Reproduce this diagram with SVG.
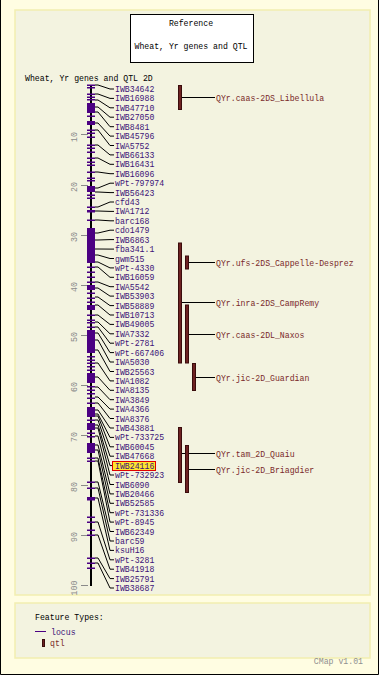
<svg xmlns="http://www.w3.org/2000/svg" width="379" height="675" viewBox="0 0 379 675">
<style>
text{font-family:"Liberation Mono","DejaVu Sans Mono",monospace;font-size:8.2px}
.blk{fill:#000}
.loc{fill:#3c1478}
.qt{fill:#7a2a2a}
.sc{fill:#8a8a8a}
.tk{fill:#4b0082}
.qb{fill:#6e2222;stroke:#3a0c0c;stroke-width:1}
.ln{fill:none;stroke:#000;stroke-width:1}
.st{stroke:#8a8a8a;stroke-width:1}
</style>
<rect x="0" y="0" width="379" height="675" fill="#fffde2"/>
<path d="M0.5,0 V674.5 H378.5 V0" fill="none" stroke="#000"/>
<rect x="15" y="10" width="355" height="585" fill="#f3f3e0" stroke="#f2eeb0" stroke-width="1.5"/>
<rect x="15" y="603" width="355" height="55" fill="#f3f3e0" stroke="#f2eeb0" stroke-width="1.5"/>

<g id="title">
<rect x="130.5" y="14.5" width="123" height="48" fill="#fff" stroke="#000"/>
<text class="blk" x="191" y="25.5" text-anchor="middle">Reference</text>
<text class="blk" x="191" y="49" text-anchor="middle">Wheat, Yr genes and QTL</text>
</g>
<text class="blk" x="25" y="80.5">Wheat, Yr genes and QTL 2D</text>

<g id="scale">
<g class="st">
<line x1="81" y1="134.5" x2="88" y2="134.5"/><line x1="81" y1="185.5" x2="88" y2="185.5"/>
<line x1="81" y1="235.5" x2="88" y2="235.5"/><line x1="81" y1="285.5" x2="88" y2="285.5"/>
<line x1="81" y1="335.5" x2="88" y2="335.5"/><line x1="81" y1="385.5" x2="88" y2="385.5"/>
<line x1="81" y1="435.5" x2="88" y2="435.5"/><line x1="81" y1="485.5" x2="88" y2="485.5"/>
<line x1="81" y1="535.5" x2="88" y2="535.5"/><line x1="81" y1="585.5" x2="88" y2="585.5"/>
</g>
<text class="sc" x="77" y="137" transform="rotate(-90 77 137)" text-anchor="middle">10</text>
<text class="sc" x="77" y="187" transform="rotate(-90 77 187)" text-anchor="middle">20</text>
<text class="sc" x="77" y="237" transform="rotate(-90 77 237)" text-anchor="middle">30</text>
<text class="sc" x="77" y="287" transform="rotate(-90 77 287)" text-anchor="middle">40</text>
<text class="sc" x="77" y="337" transform="rotate(-90 77 337)" text-anchor="middle">50</text>
<text class="sc" x="77" y="387" transform="rotate(-90 77 387)" text-anchor="middle">60</text>
<text class="sc" x="77" y="437" transform="rotate(-90 77 437)" text-anchor="middle">70</text>
<text class="sc" x="77" y="487" transform="rotate(-90 77 487)" text-anchor="middle">80</text>
<text class="sc" x="77" y="537" transform="rotate(-90 77 537)" text-anchor="middle">90</text>
<text class="sc" x="77" y="588" transform="rotate(-90 77 588)" text-anchor="middle">100</text>
</g>

<g id="connectors" class="ln">
<polyline points="95,85 98,85 110,89 114,89"/>
<polyline points="95,94 98,94 110,98.4 114,98.4"/>
<polyline points="95,100 98,100 110,107.8 114,107.8"/>
<polyline points="95,107 98,107 110,117.2 114,117.2"/>
<polyline points="95,112 98,112 110,126.7 114,126.7"/>
<polyline points="95,123 98,123 110,136.1 114,136.1"/>
<polyline points="95,130 98,130 110,145.5 114,145.5"/>
<polyline points="95,145 98,145 110,154.9 114,154.9"/>
<polyline points="95,158 98,158 110,164.3 114,164.3"/>
<polyline points="95,172 98,172 110,173.7 114,173.7"/>
<polyline points="95,188 98,188 110,183.2 114,183.2"/>
<polyline points="95,192 98,192 110,192.6 114,192.6"/>
<polyline points="95,207 98,207 110,202 114,202"/>
<polyline points="95,211 98,211 110,211.4 114,211.4"/>
<polyline points="95,220 98,220 110,220.8 114,220.8"/>
<polyline points="95,233 98,233 110,230.2 114,230.2"/>
<polyline points="95,240 98,240 110,239.6 114,239.6"/>
<polyline points="95,249 98,249 110,249.1 114,249.1"/>
<polyline points="95,255 98,255 110,258.5 114,258.5"/>
<polyline points="95,262 98,262 110,267.9 114,267.9"/>
<polyline points="95,267 98,267 110,277.3 114,277.3"/>
<polyline points="95,282 98,282 110,286.7 114,286.7"/>
<polyline points="95,288 98,288 110,296.1 114,296.1"/>
<polyline points="95,297 98,297 110,305.6 114,305.6"/>
<polyline points="95,305 98,305 110,315 114,315"/>
<polyline points="95,315 98,315 110,324.4 114,324.4"/>
<polyline points="95,322 98,322 110,333.8 114,333.8"/>
<polyline points="95,327 98,327 110,343.2 114,343.2"/>
<polyline points="95,333 98,333 110,352.6 114,352.6"/>
<polyline points="95,340 98,340 110,362 114,362"/>
<polyline points="95,350 98,350 110,371.5 114,371.5"/>
<polyline points="95,363 98,363 110,380.9 114,380.9"/>
<polyline points="95,377 98,377 110,390.3 114,390.3"/>
<polyline points="95,387 98,387 110,399.7 114,399.7"/>
<polyline points="95,397 98,397 110,409.1 114,409.1"/>
<polyline points="95,403 98,403 110,418.5 114,418.5"/>
<polyline points="95,410 98,410 110,428 114,428"/>
<polyline points="95,414 98,414 110,437.4 114,437.4"/>
<polyline points="95,416 98,416 110,446.8 114,446.8"/>
<polyline points="95,420 98,420 110,456.2 114,456.2"/>
<polyline points="95,425 98,425 110,465.6 114,465.6"/>
<polyline points="95,428 98,428 110,475 114,475"/>
<polyline points="95,436 98,436 110,484.5 114,484.5"/>
<polyline points="95,445 98,445 110,493.9 114,493.9"/>
<polyline points="95,450 98,450 110,503.3 114,503.3"/>
<polyline points="95,458 98,458 110,512.7 114,512.7"/>
<polyline points="95,461 98,461 110,522.1 114,522.1"/>
<polyline points="95,482 98,482 110,531.5 114,531.5"/>
<polyline points="95,488 98,488 110,541 114,541"/>
<polyline points="95,498 98,498 110,550.4 114,550.4"/>
<polyline points="95,522 98,522 110,559.8 114,559.8"/>
<polyline points="95,535 98,535 110,569.2 114,569.2"/>
<polyline points="95,558 98,558 110,578.6 114,578.6"/>
<polyline points="95,563 98,563 110,588 114,588"/>
<line x1="182" y1="97.5" x2="215" y2="97.5"/>
<line x1="189" y1="262.5" x2="215" y2="262.5"/>
<line x1="182" y1="302.5" x2="215" y2="302.5"/>
<line x1="189" y1="334.5" x2="215" y2="334.5"/>
<line x1="196" y1="377.5" x2="215" y2="377.5"/>
<line x1="182" y1="453.5" x2="215" y2="453.5"/>
<line x1="189" y1="469.5" x2="215" y2="469.5"/>
</g>

<g id="chromosome">
<rect x="90" y="85" width="2" height="501" fill="#000"/>
<g class="tk">
<rect x="87" y="84.5" width="8" height="1.5"/><rect x="87" y="87" width="8" height="1.5"/>
<rect x="87" y="93.5" width="8" height="1.5"/><rect x="87" y="96.5" width="8" height="1.5"/>
<rect x="87" y="99" width="8" height="1.5"/><rect x="87" y="103" width="8" height="10"/>
<rect x="87" y="115.5" width="8" height="1.5"/><rect x="87" y="121" width="8" height="4"/>
<rect x="87" y="129.5" width="8" height="1.5"/><rect x="87" y="132.5" width="8" height="1.5"/>
<rect x="87" y="136.5" width="8" height="1.5"/><rect x="87" y="144.5" width="8" height="1.5"/>
<rect x="87" y="147.5" width="8" height="1.5"/><rect x="87" y="151.5" width="8" height="1.5"/>
<rect x="87" y="157.5" width="8" height="1.5"/><rect x="87" y="161.5" width="8" height="1.5"/>
<rect x="87" y="164.5" width="8" height="1.5"/><rect x="87" y="171.5" width="8" height="1.5"/>
<rect x="87" y="177.5" width="8" height="1.5"/><rect x="87" y="180" width="8" height="1.5"/>
<rect x="87" y="186" width="8" height="6"/><rect x="87" y="194.5" width="8" height="1.5"/>
<rect x="87" y="197.5" width="8" height="1.5"/><rect x="87" y="206.5" width="8" height="1.5"/>
<rect x="87" y="210" width="8" height="2.5"/><rect x="87" y="219.5" width="8" height="1.5"/>
<rect x="87" y="228" width="8" height="35"/><rect x="87" y="266.5" width="8" height="1.5"/>
<rect x="87" y="271.5" width="8" height="1.5"/><rect x="87" y="276.5" width="8" height="1.5"/>
<rect x="87" y="281.5" width="8" height="1.5"/><rect x="87" y="285" width="8" height="5"/>
<rect x="87" y="292.5" width="8" height="1.5"/><rect x="87" y="297.5" width="8" height="1.5"/>
<rect x="87" y="301.5" width="8" height="1.5"/><rect x="87" y="305" width="8" height="5"/>
<rect x="87" y="314.5" width="8" height="1.5"/><rect x="87" y="319.5" width="8" height="1.5"/>
<rect x="87" y="322" width="8" height="1.5"/><rect x="87" y="326.5" width="8" height="1.5"/>
<rect x="87" y="330" width="8" height="23"/><rect x="87" y="356" width="8" height="1.5"/>
<rect x="87" y="359.5" width="8" height="1.5"/><rect x="87" y="362.5" width="8" height="1.5"/>
<rect x="87" y="366" width="8" height="1.5"/><rect x="87" y="369.5" width="8" height="1.5"/>
<rect x="87" y="373" width="8" height="10"/><rect x="87" y="386" width="8" height="1.5"/>
<rect x="87" y="389.5" width="8" height="1.5"/><rect x="87" y="393" width="8" height="1.5"/>
<rect x="87" y="397.5" width="8" height="1.5"/><rect x="87" y="402.5" width="8" height="1.5"/>
<rect x="87" y="407" width="8" height="10"/><rect x="87" y="419.5" width="8" height="1.5"/>
<rect x="87" y="423" width="8" height="7"/><rect x="87" y="432.5" width="8" height="1.5"/>
<rect x="87" y="436" width="8" height="1.5"/><rect x="87" y="443" width="8" height="10"/>
<rect x="87" y="457.5" width="8" height="1.5"/><rect x="87" y="460.5" width="8" height="1.5"/>
<rect x="87" y="481.5" width="8" height="1.5"/><rect x="87" y="487.5" width="8" height="1.5"/>
<rect x="87" y="497" width="8" height="3.5"/><rect x="87" y="516.5" width="8" height="1.5"/>
<rect x="87" y="521.5" width="8" height="1.5"/><rect x="87" y="529.5" width="8" height="1.5"/>
<rect x="87" y="534.5" width="8" height="1.5"/><rect x="87" y="557.5" width="8" height="1.5"/>
<rect x="87" y="562.5" width="8" height="1.5"/><rect x="87" y="567.5" width="8" height="1.5"/>
</g>
</g>

<g id="loci" class="loc">
<text x="115" y="92">IWB34642</text>
<text x="115" y="101.4">IWB16988</text>
<text x="115" y="110.8">IWB47710</text>
<text x="115" y="120.2">IWB27050</text>
<text x="115" y="129.7">IWB8481</text>
<text x="115" y="139.1">IWB45796</text>
<text x="115" y="148.5">IWA5752</text>
<text x="115" y="157.9">IWB66133</text>
<text x="115" y="167.3">IWB16431</text>
<text x="115" y="176.7">IWB16096</text>
<text x="115" y="186.2">wPt-797974</text>
<text x="115" y="195.6">IWB56423</text>
<text x="115" y="205">cfd43</text>
<text x="115" y="214.4">IWA1712</text>
<text x="115" y="223.8">barc168</text>
<text x="115" y="233.2">cdo1479</text>
<text x="115" y="242.6">IWB6863</text>
<text x="115" y="252.1">fba341.1</text>
<text x="115" y="261.5">gwm515</text>
<text x="115" y="270.9">wPt-4330</text>
<text x="115" y="280.3">IWB16059</text>
<text x="115" y="289.7">IWA5542</text>
<text x="115" y="299.1">IWB53903</text>
<text x="115" y="308.6">IWB58889</text>
<text x="115" y="318">IWB10713</text>
<text x="115" y="327.4">IWB49005</text>
<text x="115" y="336.8">IWA7332</text>
<text x="115" y="346.2">wPt-2781</text>
<text x="115" y="355.6">wPt-667406</text>
<text x="115" y="365">IWA5030</text>
<text x="115" y="374.5">IWB25563</text>
<text x="115" y="383.9">IWA1082</text>
<text x="115" y="393.3">IWA8135</text>
<text x="115" y="402.7">IWA3849</text>
<text x="115" y="412.1">IWA4366</text>
<text x="115" y="421.5">IWA8376</text>
<text x="115" y="431">IWB43881</text>
<text x="115" y="440.4">wPt-733725</text>
<text x="115" y="449.8">IWB60045</text>
<text x="115" y="459.2">IWB47668</text>
<rect x="112.5" y="461.5" width="43" height="9" fill="#ffe62e" stroke="#e00000"/>
<text x="115" y="468.6">IWB24116</text>
<text x="115" y="478">wPt-732923</text>
<text x="115" y="487.5">IWB6090</text>
<text x="115" y="496.9">IWB20466</text>
<text x="115" y="506.3">IWB52585</text>
<text x="115" y="515.7">wPt-731336</text>
<text x="115" y="525.1">wPt-8945</text>
<text x="115" y="534.5">IWB62349</text>
<text x="115" y="544">barc59</text>
<text x="115" y="553.4">ksuH16</text>
<text x="115" y="562.8">wPt-3281</text>
<text x="115" y="572.2">IWB41918</text>
<text x="115" y="581.6">IWB25791</text>
<text x="115" y="591">IWB38687</text>
</g>

<g id="qtls">
<rect class="qb" x="178.5" y="85.5" width="3" height="24"/>
<rect class="qb" x="178.5" y="243" width="3" height="120"/>
<rect class="qb" x="185.5" y="256" width="3" height="13"/>
<rect class="qb" x="185.5" y="305" width="3" height="58"/>
<rect class="qb" x="192.5" y="363.5" width="3" height="27"/>
<rect class="qb" x="178.5" y="427.5" width="3" height="55"/>
<rect class="qb" x="185.5" y="445.5" width="3" height="47"/>
<g class="qt">
<text x="216" y="100.5">QYr.caas-2DS_Libellula</text>
<text x="216" y="265.5">QYr.ufs-2DS_Cappelle-Desprez</text>
<text x="216" y="305.5">QYr.inra-2DS_CampRemy</text>
<text x="216" y="337.5">QYr.caas-2DL_Naxos</text>
<text x="216" y="380.5">QYr.jic-2D_Guardian</text>
<text x="216" y="456.5">QYr.tam_2D_Quaiu</text>
<text x="216" y="472.5">QYr.jic-2D_Briagdier</text>
</g>
</g>

<g id="legend">
<text class="blk" x="35" y="620">Feature Types:</text>
<line x1="35" y1="631.5" x2="46" y2="631.5" stroke="#4b0082" stroke-width="1"/>
<text class="loc" x="51" y="634.5">locus</text>
<rect class="qb" x="42.5" y="639.5" width="2" height="7"/>
<text class="qt" x="50" y="646">qtl</text>
</g>
<text x="363" y="664" text-anchor="end" fill="#909090">CMap v1.01</text>
</svg>
